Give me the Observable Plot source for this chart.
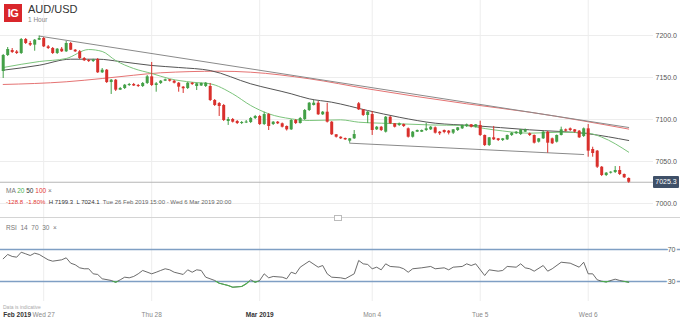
<!DOCTYPE html>
<html><head><meta charset="utf-8">
<script src="https://cdn.jsdelivr.net/npm/d3@7"></script>
<script src="https://cdn.jsdelivr.net/npm/@observablehq/plot@0.6"></script>
<style>
body{margin:0;background:#fff;font-family:"Liberation Sans",Arial,sans-serif;}
#wrap{position:relative;width:680px;height:321px;overflow:hidden;background:#fff;}
.abs{position:absolute;white-space:nowrap;}
</style></head><body>
<div id="wrap">
  <div id="price" class="abs" style="left:0;top:0"></div>
  <div id="rsi" class="abs" style="left:0;top:217px"></div>
  <div id="rsiLow" class="abs" style="left:0;width:680px;overflow:hidden"></div>
  <div class="abs" style="left:4px;top:4px;width:18px;height:18px;background:#d9262b;color:#fff;font-weight:bold;font-size:11px;line-height:18px;text-align:center;letter-spacing:-0.5px">IG</div>
  <div class="abs" style="left:28px;top:3px;font-size:11px;color:#333">AUD/USD</div>
  <div class="abs" style="left:28px;top:16px;font-size:6.5px;color:#888">1 Hour</div>
  <div class="abs" style="left:6px;top:187px;font-size:6.5px;color:#777">MA <span style="color:#4caf50">20</span> <span style="color:#333">50</span> <span style="color:#e53935">100</span> ×</div>
  <div class="abs" style="left:6px;top:199px;font-size:6px;color:#666"><span style="color:#e53935">-128.8 &nbsp;-1.80%</span> &nbsp;<span style="color:#333">H 7199.3 &nbsp;L 7024.1</span> &nbsp;Tue 26 Feb 2019 15:00 - Wed 6 Mar 2019 20:00</div>
  <div class="abs" style="left:0;top:217px;width:680px;height:1px;background:#d4d4d4"></div>
  <div class="abs" style="left:334px;top:215px;width:6px;height:4px;border:1px solid #bbb;background:#fff"></div>
  <div class="abs" style="left:6px;top:224px;font-size:6.5px;color:#777">RSI &nbsp;14 &nbsp;70 &nbsp;30 &nbsp;×</div>
  <div class="abs" style="left:3px;top:304px;font-size:5px;color:#aaa">Data is indicative</div>
  <div id="lastbox" class="abs" style="left:653px;width:26px;height:12px;background:#3f5068;color:#fff;font-size:7px;line-height:12px;text-align:center;border-radius:1px"></div>
</div>
<script>
// ---- data ----
const open = [7157.1,7176.2,7182.1,7180.4,7178.6,7195.2,7190.5,7188.5,7194.4,7196.4,7186.5,7184.5,7178.6,7183.7,7180.6,7190.5,7182.5,7180.6,7172.6,7170.2,7169.0,7171.4,7155.6,7158.7,7144.0,7146.8,7134.9,7136.9,7140.5,7141.7,7140.5,7139.3,7142.9,7150.8,7140.5,7142.9,7145.6,7147.3,7145.6,7143.2,7138.5,7136.9,7143.2,7139.3,7139.9,7139.3,7139.3,7122.6,7119.0,7116.7,7097.6,7100.0,7097.6,7095.2,7095.8,7096.4,7101.2,7103.6,7094.0,7105.9,7094.0,7096.8,7094.9,7091.7,7087.7,7098.8,7095.2,7100.0,7110.7,7116.7,7119.4,7105.6,7108.7,7096.8,7081.8,7078.9,7077.4,7074.2,7077.0,7118.7,7111.5,7104.8,7105.9,7087.7,7090.8,7084.9,7102.7,7094.9,7092.9,7094.0,7088.9,7078.9,7084.9,7084.9,7086.9,7087.7,7090.1,7084.9,7086.9,7086.1,7083.7,7086.9,7088.9,7091.7,7093.7,7090.8,7092.9,7081.0,7069.0,7078.2,7077.0,7075.0,7075.8,7081.0,7083.0,7082.1,7084.9,7083.0,7081.0,7073.0,7077.0,7084.9,7077.0,7073.0,7081.0,7087.7,7088.9,7087.7,7086.1,7079.8,7088.9,7064.3,7062.3,7043.2,7033.3,7036.1,7036.9,7039.3,7034.5,7029.8];
const close = [7176.2,7183.3,7179.8,7178.6,7195.2,7190.5,7188.5,7194.4,7196.4,7186.5,7184.5,7178.6,7183.7,7180.6,7190.5,7182.5,7180.6,7172.6,7169.9,7169.0,7170.8,7155.6,7158.7,7144.0,7146.8,7134.9,7136.9,7140.8,7141.7,7139.9,7139.3,7142.9,7150.8,7140.5,7142.5,7145.6,7147.3,7145.6,7143.2,7138.5,7136.6,7143.2,7141.7,7142.5,7142.9,7143.2,7122.6,7116.7,7115.5,7098.8,7100.0,7096.8,7095.2,7096.4,7097.0,7101.2,7103.6,7094.0,7105.9,7091.7,7096.8,7094.9,7090.8,7087.7,7098.8,7095.2,7101.2,7110.7,7119.4,7119.4,7105.6,7108.7,7096.8,7081.8,7078.9,7077.0,7075.8,7077.0,7082.1,7111.5,7104.8,7108.7,7086.9,7090.8,7086.9,7102.7,7094.9,7090.8,7094.9,7091.7,7078.9,7084.9,7086.9,7086.9,7088.9,7090.8,7083.7,7083.0,7084.5,7083.7,7087.7,7090.1,7092.9,7093.7,7090.8,7093.7,7081.0,7069.0,7078.2,7075.8,7075.0,7077.0,7081.0,7083.7,7084.9,7087.7,7087.7,7081.0,7071.8,7077.0,7084.9,7071.8,7071.1,7081.0,7087.7,7086.1,7086.9,7084.9,7078.2,7088.9,7062.3,7059.5,7043.2,7033.3,7036.1,7037.3,7039.3,7034.5,7030.6,7025.3];
const high = [7177.4,7185.7,7184.5,7182.1,7196.4,7196.4,7192.9,7195.2,7199.3,7197.6,7188.1,7185.7,7184.5,7185.7,7192.9,7191.7,7183.3,7182.1,7173.8,7171.4,7171.7,7172.6,7160.7,7159.5,7147.6,7147.6,7138.1,7141.7,7142.9,7142.9,7141.7,7144.0,7152.4,7167.9,7144.0,7146.4,7148.2,7147.6,7146.4,7144.0,7139.3,7144.0,7144.0,7143.4,7143.4,7144.0,7142.9,7123.8,7120.2,7117.9,7102.4,7101.2,7098.8,7097.6,7098.8,7102.4,7104.8,7104.8,7108.7,7107.1,7097.6,7097.6,7095.8,7092.3,7100.0,7100.0,7102.4,7111.9,7120.2,7122.6,7121.4,7109.5,7119.4,7097.6,7082.1,7079.4,7077.9,7077.4,7086.9,7120.2,7111.9,7109.5,7109.5,7091.7,7091.7,7103.6,7103.6,7095.2,7095.8,7094.6,7089.9,7085.7,7087.5,7087.5,7095.6,7091.7,7091.1,7085.7,7087.5,7086.9,7088.1,7090.5,7093.4,7094.6,7094.0,7094.0,7098.0,7081.5,7078.6,7091.7,7077.4,7077.4,7081.5,7084.5,7085.7,7088.1,7088.7,7083.9,7081.5,7077.4,7085.7,7085.7,7077.9,7081.5,7090.9,7088.7,7089.9,7088.1,7086.9,7089.9,7094.0,7067.0,7063.1,7044.0,7036.9,7037.8,7044.0,7044.0,7035.1,7030.4];
const low = [7148.8,7175.0,7178.6,7177.4,7177.4,7189.3,7186.9,7181.3,7194.0,7185.7,7183.3,7177.4,7177.4,7179.8,7179.8,7182.1,7179.8,7171.4,7169.0,7167.9,7167.9,7154.8,7154.8,7142.9,7129.8,7133.3,7134.5,7135.7,7139.3,7139.3,7138.1,7138.1,7141.7,7139.3,7132.5,7141.7,7145.2,7144.6,7142.3,7132.5,7131.0,7135.7,7140.5,7134.5,7139.3,7138.1,7121.4,7115.5,7103.6,7097.6,7092.9,7095.8,7094.0,7094.0,7095.2,7095.2,7100.0,7092.9,7092.9,7086.9,7092.9,7094.0,7089.9,7086.3,7086.9,7094.0,7094.6,7098.8,7109.5,7116.1,7104.8,7104.8,7095.8,7081.0,7077.9,7076.2,7075.0,7071.8,7076.2,7110.7,7103.6,7095.2,7081.0,7086.9,7085.7,7083.9,7094.0,7089.9,7091.7,7090.5,7077.9,7077.9,7084.5,7084.5,7085.7,7086.9,7082.7,7081.0,7083.0,7081.6,7082.1,7085.7,7088.1,7090.5,7089.9,7089.9,7079.8,7067.9,7067.9,7075.0,7073.8,7073.8,7075.0,7079.8,7082.1,7081.0,7084.5,7079.8,7070.8,7072.0,7076.2,7059.9,7070.2,7072.0,7080.4,7085.1,7085.7,7083.9,7077.4,7078.6,7055.1,7055.1,7041.7,7032.1,7032.1,7035.1,7035.7,7033.3,7029.8,7024.1];

const ma20Index = [0,8,14,19,22,25,29,33,37,42,46,51,55,59,64,68,75,79,84,88,95,102,109,117,124,130,133,139];
const ma20Value = [7161.9,7169.0,7172.6,7183.3,7181.0,7170.2,7160.7,7154.8,7148.5,7144.4,7142.5,7130.6,7116.7,7106.8,7100.8,7098.8,7099.6,7096.8,7095.6,7094.9,7093.5,7092.9,7087.7,7083.7,7084.9,7083.7,7079.0,7061.1];
const ma50Index = [0,8,15,21,26,33,39,46,55,64,68,73,81,88,96,104,117,130,139];
const ma50Value = [7158.7,7164.6,7171.8,7171.8,7169.0,7164.3,7161.9,7158.3,7142.5,7130.6,7124.6,7120.6,7110.7,7102.7,7095.6,7092.9,7087.7,7083.0,7075.0];
const ma100Index = [0,14,22,29,35,48,55,68,81,103,117,139];
const ma100Value = [7141.7,7144.9,7148.8,7152.7,7155.6,7157.5,7156.3,7148.5,7136.5,7118.7,7108.7,7088.6];

const upperTrendIndex = [8,139];
const upperTrendValue = [7199.3,7090.5];
const lowerTrendIndex = [77,129];
const lowerTrendValue = [7071.8,7058.3];

const rsiIndex = [0,1,2,3,4,5,6,7,8,9,10,11,13,14,15,16,17,18,19,20,21,22,24,25,26,27,28,29,30,31,33,34,35,36,37,38,40,41,42,43,44,45,47,48,50,51,53,54,55,56,57,58,59,60,62,63,64,65,66,68,70,71,72,73,75,76,78,79,80,81,82,83,84,85,86,88,89,90,91,93,95,96,98,99,100,102,103,104,105,107,108,110,111,112,114,115,116,117,118,120,121,122,124,126,128,129,130,131,132,133,134,136,137,139];
const rsiValue = [58.4,63.8,61.3,60.4,66.6,64.6,62.5,65.4,63.8,60.4,57.1,55.4,57.1,59.6,52.9,50.9,47.1,45.9,45.9,39.6,38.8,33.4,31.3,29.1,32.1,35.4,34.6,36.3,39.6,43.8,39.6,41.6,43.8,45.9,44.6,41.6,38.8,44.6,41.6,44.6,43.8,35.4,31.3,27.9,25.0,22.9,23.8,27.1,32.1,29.1,31.3,39.6,34.6,36.3,35.4,33.4,41.6,39.6,47.9,55.4,47.9,50.0,39.6,35.4,34.6,33.4,39.6,56.3,52.1,51.3,45.9,47.9,44.6,52.1,48.8,47.9,45.9,41.6,45.9,47.1,48.8,45.9,47.1,44.6,47.9,48.8,52.1,50.0,52.1,37.5,44.6,42.9,43.8,48.8,47.9,52.1,47.1,45.9,42.9,50.0,42.9,45.9,54.1,52.9,47.9,54.1,39.6,39.6,32.1,30.4,29.5,32.9,31.3,29.1];
const rsiLevels = [70, 30];
const oversold = 30;

const priceTicks = [7000, 7050, 7100, 7150, 7200];
const lastPrice = 7025.3;
const dayTickIndex = [9, 33, 57, 82, 106, 130];
const dayTickLabel = ["Wed 27", "Thu 28", "Mar 2019", "Mon 4", "Tue 5", "Wed 6"];
const dayTickBold = [false, false, true, false, false, false];
const startLabel = "Feb 2019";

// ---- build ----
const UP = "#43a047", DOWN = "#d9302c";
const candles = open.map((o, i) => ({i, open: o, close: close[i], high: high[i], low: low[i]}));
const pts = (idx, val) => idx.map((i, k) => ({i, v: val[k]}));
const rsi = pts(rsiIndex, rsiValue);
const ticks = dayTickIndex.map((i, k) => ({i, label: dayTickLabel[k], bold: dayTickBold[k]}));
const N = open.length;
const xScale = {domain: [0, N - 1], range: [2.7, 628.2], axis: null};
const font = {fontFamily: "'Liberation Sans', Arial, sans-serif", fontSize: "7px", color: "#555", background: "transparent", overflow: "visible"};

const pricePlot = Plot.plot({
  width: 680, height: 218,
  marginLeft: 0, marginRight: 27, marginTop: 0, marginBottom: 0,
  style: font,
  x: xScale,
  y: {domain: [7000, 7200], range: [203, 35], ticks: priceTicks, tickFormat: d => d.toFixed(1), tickSize: 0, tickPadding: 2, axis: "right", label: null},
  marks: [
    Plot.ruleY(priceTicks, {stroke: "#ededed"}),
    Plot.ruleX(dayTickIndex, {stroke: "#ededed"}),
    Plot.ruleY([lastPrice], {stroke: "#b5b5b5"}),
    Plot.line(pts(ma100Index, ma100Value), {x: "i", y: "v", stroke: "#e57373", strokeWidth: 1, curve: "monotone-x"}),
    Plot.line(pts(ma50Index, ma50Value), {x: "i", y: "v", stroke: "#555", strokeWidth: 1, curve: "monotone-x"}),
    Plot.line(pts(ma20Index, ma20Value), {x: "i", y: "v", stroke: "#7cc47c", strokeWidth: 1, curve: "monotone-x"}),
    Plot.line(pts(upperTrendIndex, upperTrendValue), {x: "i", y: "v", stroke: "#8a8a8a", strokeWidth: 1}),
    Plot.line(pts(lowerTrendIndex, lowerTrendValue), {x: "i", y: "v", stroke: "#8a8a8a", strokeWidth: 1}),
    Plot.ruleX(candles, {x: "i", y1: "low", y2: "high", stroke: d => d.close >= d.open ? UP : DOWN, strokeWidth: 1}),
    Plot.ruleX(candles, {x: "i", y1: "open", y2: "close", stroke: d => d.close >= d.open ? UP : DOWN, strokeWidth: 3})
  ]
});
document.getElementById("price").appendChild(pricePlot);
const ys = pricePlot.scale("y");
const lb = document.getElementById("lastbox");
lb.style.top = (ys.apply(lastPrice) - 6) + "px";
lb.textContent = lastPrice.toFixed(1);

const rsiY = {domain: [30, 70], range: [64, 32], axis: null};
const rsiPlot = Plot.plot({
  width: 680, height: 104,
  marginLeft: 0, marginRight: 0, marginTop: 0, marginBottom: 20,
  style: font,
  x: xScale,
  y: rsiY,
  marks: [
    Plot.ruleX(dayTickIndex, {stroke: "#ededed"}),
    Plot.ruleY(rsiLevels, {stroke: "#7f9fc4", strokeWidth: 1.3}),
    Plot.text(rsiLevels, {y: d => d, text: d => String(d), frameAnchor: "right", dx: -5, textAnchor: "end", fill: "#555", stroke: "white", strokeWidth: 3, fontSize: 7}),
    Plot.line(rsi, {x: "i", y: "v", stroke: "#5a5a5a", strokeWidth: 0.9}),
    Plot.text([startLabel], {x: 0, text: d => d, frameAnchor: "bottom", dy: 15, textAnchor: "start", fill: "#333", fontWeight: 600, fontSize: 6.5}),
    Plot.text(ticks.filter(d => d.bold), {x: "i", text: "label", frameAnchor: "bottom", dy: 15, fill: "#333", fontWeight: 600, fontSize: 6.5}),
    Plot.text(ticks.filter(d => !d.bold), {x: "i", text: "label", frameAnchor: "bottom", dy: 15, fill: "#888", fontSize: 6.5})
  ]
});
document.getElementById("rsi").appendChild(rsiPlot);

// green copy of the RSI line, shown only in the oversold zone (below 30) via a clipping box
const y30 = rsiPlot.scale("y").apply(oversold);
const lowWrap = document.getElementById("rsiLow");
lowWrap.style.top = (217 + y30) + "px";
lowWrap.style.height = (104 - y30) + "px";
const lowPlot = Plot.plot({
  width: 680, height: 104,
  marginLeft: 0, marginRight: 0, marginTop: 0, marginBottom: 20,
  style: font,
  x: xScale,
  y: rsiY,
  marks: [Plot.line(rsi, {x: "i", y: "v", stroke: "#4cae4c", strokeWidth: 1.1})]
});
lowPlot.style.position = "relative";
lowPlot.style.top = (-y30) + "px";
lowWrap.appendChild(lowPlot);
</script>
</body></html>
